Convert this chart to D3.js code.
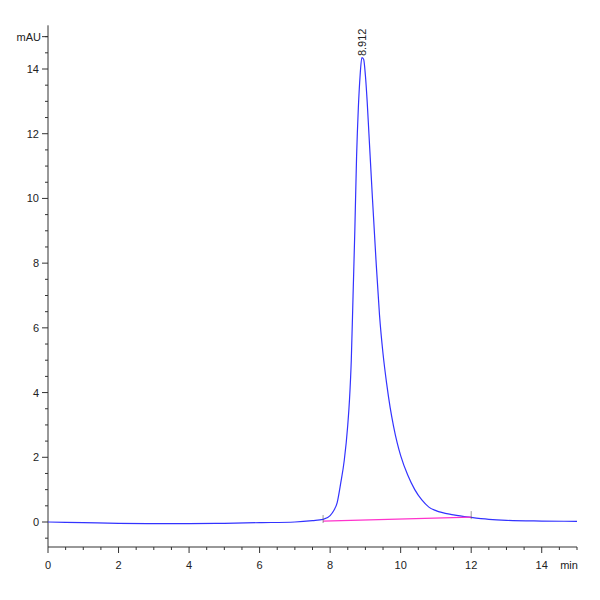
<!DOCTYPE html><html><head><meta charset="utf-8"><script src="https://cdn.jsdelivr.net/npm/d3@7"></script>
<style>body{margin:0;background:#fff}text{font-family:"Liberation Sans",Arial,sans-serif;font-size:11px;fill:#222}</style></head><body><svg id="c" width="600" height="600"></svg><script>
const times=[0,1,2,3,4,5,6,7,7.5,7.8,8.0,8.1,8.2,8.3,8.4,8.5,8.55,8.6,8.65,8.7,8.75,8.8,8.85,8.9,8.95,9.0,9.05,9.1,9.2,9.3,9.4,9.5,9.6,9.7,9.8,9.9,10.0,10.2,10.4,10.6,10.8,11,11.5,12,12.5,13,14,15];
const signal=[0,-0.02,-0.04,-0.05,-0.05,-0.04,-0.02,0.0,0.04,0.08,0.2,0.35,0.6,1.2,1.9,3.0,3.8,5.0,7.0,9.0,11.3,12.8,13.8,14.35,14.3,13.8,13.0,12.0,10.0,8.1,6.4,5.2,4.3,3.55,2.95,2.45,2.05,1.45,1.0,0.68,0.46,0.35,0.22,0.14,0.08,0.05,0.03,0.02];
const baseT=[7.8,12.0], baseV=[0.03,0.15];
const peakLabel="8.912", peakT=8.912;
const xTicks=[0,2,4,6,8,10,12,14], yTicks=[0,2,4,6,8,10,12,14];
const svg=d3.select("#c");
const x=d3.scaleLinear().domain([0,15]).range([48,577]);
const y=d3.scaleLinear().domain([0,14]).range([522,69]);
const yb=547, yt=y(15.35);
svg.append("line").attr("x1",48).attr("x2",577).attr("y1",yb).attr("y2",yb).attr("stroke","#333");
svg.append("line").attr("x1",48).attr("x2",48).attr("y1",yt).attr("y2",yb).attr("stroke","#333");
d3.range(0,15.01,0.5).forEach(t=>{const maj=t%2===0;svg.append("line").attr("x1",x(t)).attr("x2",x(t)).attr("y1",yb).attr("y2",yb+(maj?6:3)).attr("stroke","#333");});
xTicks.forEach(t=>svg.append("text").attr("x",x(t)).attr("y",yb+22).attr("text-anchor","middle").text(t));
svg.append("text").attr("x",569).attr("y",yb+22).attr("text-anchor","middle").text("min");
d3.range(-0.5,15.01,0.5).forEach(v=>{const maj=v%2===0&&v>=0&&v<=14;svg.append("line").attr("x1",48).attr("x2",maj?42:45).attr("y1",y(v)).attr("y2",y(v)).attr("stroke","#333");});
yTicks.forEach(v=>svg.append("text").attr("x",39).attr("y",y(v)+4).attr("text-anchor","end").text(v));
svg.append("line").attr("x1",48).attr("x2",42).attr("y1",y(15)).attr("y2",y(15)).attr("stroke","#333");
svg.append("text").attr("x",41).attr("y",y(15)+4).attr("text-anchor","end").text("mAU");
const line=d3.line().x((d,i)=>x(times[i])).y(d=>y(d)).curve(d3.curveMonotoneX);
svg.append("path").attr("d",line(signal)).attr("fill","none").attr("stroke","#3333ff").attr("stroke-width",1.2);
svg.append("line").attr("x1",x(baseT[0])).attr("x2",x(baseT[1])).attr("y1",y(baseV[0])).attr("y2",y(baseV[1])).attr("stroke","#ff33cc").attr("stroke-width",1.2);
baseT.forEach((t,i)=>svg.append("line").attr("x1",x(t)).attr("x2",x(t)).attr("y1",y(baseV[i])-6).attr("y2",y(baseV[i])+2).attr("stroke","#555").attr("stroke-width",0.6));
svg.append("text").attr("transform",`translate(${x(peakT)+4},${y(14.4)}) rotate(-90)`).attr("font-size","12px").text(peakLabel);
</script></body></html>
